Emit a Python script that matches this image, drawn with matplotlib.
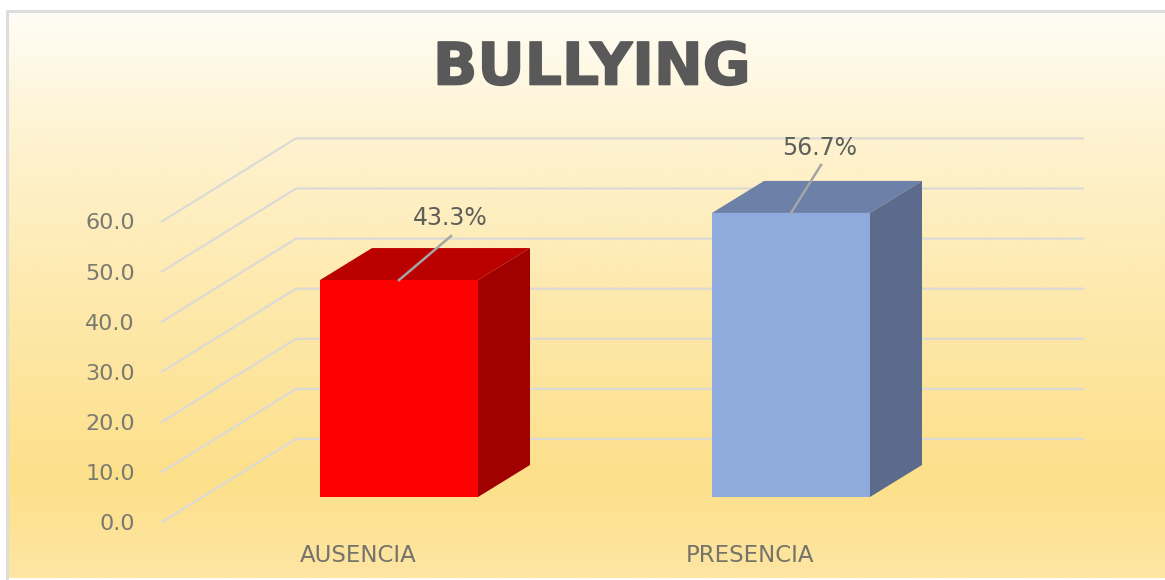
import numpy as np
import matplotlib
matplotlib.use('Agg')
import matplotlib.pyplot as plt
import matplotlib.patheffects as pe
from matplotlib.patches import Polygon

categories = ['AUSENCIA', 'PRESENCIA']
values = [43.3, 56.7]
value_labels = ['43.3%', '56.7%']
yticks = [0, 10, 20, 30, 40, 50, 60]
front_colors = ['#FF0000', '#8FAADC']
top_colors = ['#BB0000', '#6C80A8']
side_colors = ['#A00000', '#5C6B8C']

# background gradient stops (fraction of the frame height, colour)
grad_pos = [0.0, 0.21, 0.51, 0.83, 1.0]
grad_rgb = np.array([[255, 253, 245], [254, 243, 210], [254, 233, 172], [253, 224, 138], [254, 230, 164]]) / 255

W, H = 1165, 580
PX_X = 392.0   # pixels per category
PX_Y = 5.01    # pixels per value unit
X0, Y0 = 399, 497   # where category 0, value 0 sits on the front of the bars

fig = plt.figure(figsize=(W / 100, H / 100), dpi=100, facecolor='white')
ax = fig.add_axes([0, 0, 1, 1])
ax.axis('off')

# background
rows = np.linspace(0, 1, 300)
grad = np.stack([np.interp(rows, grad_pos, grad_rgb[:, i]) for i in range(3)], axis=1)[:, None, :]
ax.imshow(grad, aspect='auto', transform=ax.transAxes, extent=(8 / W, 1, 1 - 578 / H, 1 - 12 / H), zorder=0)
ax.set_xlim(-X0 / PX_X, (W - X0) / PX_X)
ax.set_ylim((Y0 - H) / PX_Y, Y0 / PX_Y)
ax.plot([7 / W, 7 / W, 1], [1 - 578 / H, 1 - 11 / H, 1 - 11 / H], color='#DDDDDD', lw=2.2,
        transform=ax.transAxes, zorder=1, clip_on=False)

# depth offsets in data units
bar_dx = 52 / PX_X
bar_dy = 32 / PX_Y
floor_x = (162 - X0) / PX_X
floor_y = (Y0 - 522) / PX_Y
wall_x = (296 - X0) / PX_X
wall_y = (Y0 - 439) / PX_Y
right_x = (1083 - X0) / PX_X
half = 79 / PX_X

# gridlines
for v in yticks:
    ax.plot([floor_x, wall_x, right_x], [floor_y + v, wall_y + v, wall_y + v],
            color='#DCDAD4', lw=1.6, zorder=2, solid_joinstyle='miter')
    ax.text((135 - X0) / PX_X, floor_y + v, '%.1f' % v, ha='right', va='center_baseline',
            fontsize=16, color='#7B7A70', family='DejaVu Sans', zorder=5)

# bars
leader_ends = [(52, 44), (30, 48)]
label_gap = [21, 19]
for i, v in enumerate(values):
    l, r = i - half, i + half
    ax.add_patch(Polygon([(l, 0), (r, 0), (r, v), (l, v)], closed=True, fc=front_colors[i], ec='none', zorder=4))
    ax.add_patch(Polygon([(l, v), (r, v), (r + bar_dx, v + bar_dy), (l + bar_dx, v + bar_dy)],
                         closed=True, fc=top_colors[i], ec='none', zorder=3))
    ax.add_patch(Polygon([(r, 0), (r + bar_dx, bar_dy), (r + bar_dx, v + bar_dy), (r, v)],
                         closed=True, fc=side_colors[i], ec='none', zorder=3))
    ex, ey = leader_ends[i]
    ax.plot([i, i + ex / PX_X], [v, v + ey / PX_Y], color='#A5A5A5', lw=1.8, zorder=5)
    ax.text(i + ex / PX_X - 1 / PX_X, v + (ey + label_gap[i]) / PX_Y, value_labels[i], ha='center', va='center_baseline',
            fontsize=17, color='#5F5F5A', family='DejaVu Sans', zorder=6)
    ax.text(i - 41 / PX_X, (Y0 - 553) / PX_Y, categories[i], ha='center', va='center_baseline',
            fontsize=16.5, color='#75736A', family='DejaVu Sans', zorder=5)

ax.text((592 - X0) / PX_X, (Y0 - 62) / PX_Y, 'BULLYING', ha='center', va='center_baseline',
        fontsize=42, fontweight='bold', color='#595959', family='DejaVu Sans', zorder=5,
        path_effects=[pe.withStroke(linewidth=1.2, foreground='#595959')])

fig.savefig('out.png', dpi=100, facecolor='white')
